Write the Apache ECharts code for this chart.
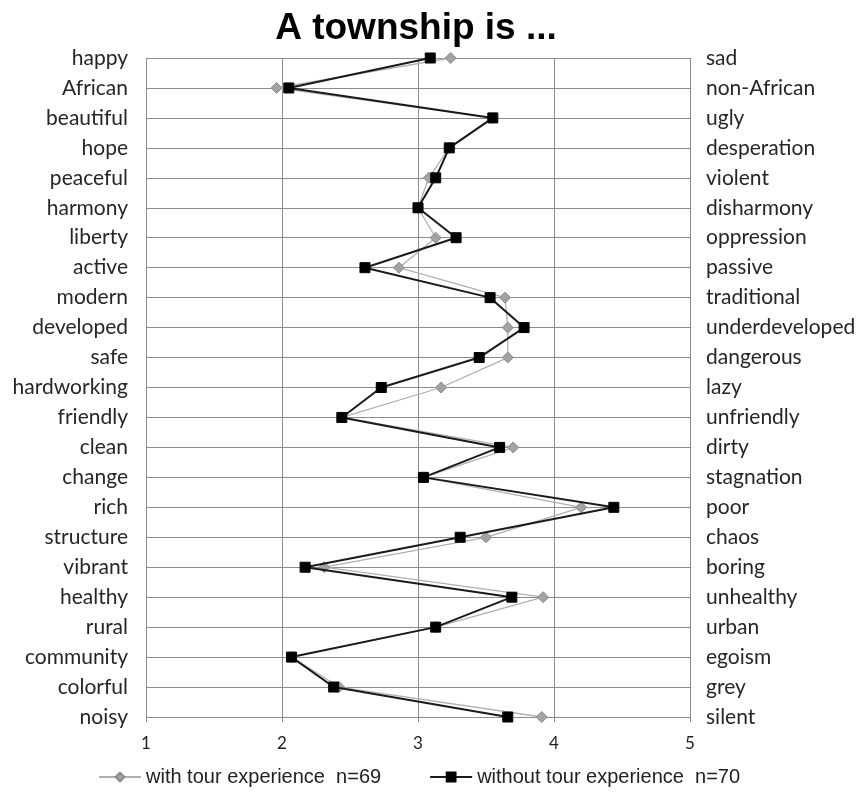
<!DOCTYPE html>
<html>
<head>
<meta charset="utf-8">
<script src="https://cdn.jsdelivr.net/npm/echarts@6/dist/echarts.min.js"></script>
<style>
  html, body { margin: 0; padding: 0; background: #fff; }
  #chart { width: 868px; height: 794px; }
</style>
</head>
<body>
<div id="chart"></div>
<script>
// Semantic differential: positive pole (left) vs negative pole (right)
const leftTerms = ['happy', 'African', 'beautiful', 'hope', 'peaceful', 'harmony', 'liberty', 'active',
  'modern', 'developed', 'safe', 'hardworking', 'friendly', 'clean', 'change', 'rich', 'structure',
  'vibrant', 'healthy', 'rural', 'community', 'colorful', 'noisy'];
const rightTerms = ['sad', 'non-African', 'ugly', 'desperation', 'violent', 'disharmony', 'oppression', 'passive',
  'traditional', 'underdeveloped', 'dangerous', 'lazy', 'unfriendly', 'dirty', 'stagnation', 'poor', 'chaos',
  'boring', 'unhealthy', 'urban', 'egoism', 'grey', 'silent'];

// Mean ratings on a 1–5 scale
const withTour = [3.24, 1.96, 3.55, 3.23, 3.08, 3.00, 3.13, 2.86, 3.64, 3.66, 3.66, 3.17, 2.44, 3.70, 3.04,
  4.20, 3.50, 2.31, 3.92, 3.13, 2.07, 2.42, 3.91];
const withoutTour = [3.09, 2.05, 3.55, 3.23, 3.13, 3.00, 3.28, 2.61, 3.53, 3.78, 3.45, 2.73, 2.44, 3.60, 3.04,
  4.44, 3.31, 2.17, 3.69, 3.13, 2.07, 2.38, 3.66];

const xTicks = [1, 2, 3, 4, 5];

const labelFont = 'Lato, "Open Sans", sans-serif';
const pairs = (vals) => vals.map((v, i) => [v, leftTerms[i]]);

const chart = echarts.init(document.getElementById('chart'), null, { renderer: 'canvas' });
chart.setOption({
  backgroundColor: '#ffffff',
  animation: false,
  title: {
    text: 'A township is ...',
    left: 411,
    top: 5,
    textAlign: 'center',
    textStyle: {
      fontFamily: '"Liberation Sans", Arial, sans-serif',
      fontWeight: 'bold',
      fontSize: 37,
      color: '#000'
    }
  },
  legend: {
    left: 93,
    top: 762,
    itemWidth: 42,
    itemHeight: 11,
    itemGap: 48,
    textStyle: {
      fontFamily: '"Liberation Sans", Arial, sans-serif',
      fontSize: 20,
      color: '#222'
    },
    data: ['with tour experience  n=69', 'without tour experience  n=70']
  },
  grid: { left: 146, right: 178, top: 58, bottom: 77, containLabel: false },
  xAxis: {
    type: 'value',
    min: xTicks[0],
    max: xTicks[xTicks.length - 1],
    interval: 1,
    axisLine: { show: false },
    axisTick: { show: true, length: 5, lineStyle: { color: '#888' } },
    axisLabel: {
      margin: 18,
      fontFamily: labelFont,
      fontSize: 17,
      color: '#222',
      formatter: (v) => xTicks.includes(v) ? String(v) : ''
    },
    splitLine: { show: true, lineStyle: { color: '#8c8c8c', width: 1 } }
  },
  yAxis: [
    {
      type: 'category',
      data: leftTerms,
      inverse: true,
      boundaryGap: false,
      position: 'left',
      axisLine: { show: false },
      axisTick: { show: false },
      axisLabel: {
        margin: 18,
        interval: 0,
        fontFamily: labelFont,
        fontSize: 21,
        color: '#262626'
      },
      splitLine: { show: true, interval: 0, lineStyle: { color: '#8c8c8c', width: 1 } }
    },
    {
      type: 'category',
      data: rightTerms,
      inverse: true,
      boundaryGap: false,
      position: 'right',
      axisLine: { show: false },
      axisTick: { show: false },
      axisLabel: {
        margin: 16,
        interval: 0,
        fontFamily: labelFont,
        fontSize: 21,
        color: '#262626'
      },
      splitLine: { show: false }
    }
  ],
  series: [
    {
      name: 'with tour experience  n=69',
      type: 'line',
      yAxisIndex: 0,
      data: pairs(withTour),
      symbol: 'diamond',
      symbolSize: 11,
      itemStyle: { color: '#a3a3a3', borderColor: '#8a8a8a', borderWidth: 1 },
      lineStyle: { color: '#b0b0b0', width: 1.3 },
      z: 2
    },
    {
      name: 'without tour experience  n=70',
      type: 'line',
      yAxisIndex: 0,
      data: pairs(withoutTour),
      symbol: 'rect',
      symbolSize: 10,
      itemStyle: { color: '#000', borderColor: '#000', borderWidth: 1 },
      lineStyle: { color: '#1a1a1a', width: 2 },
      z: 3
    }
  ]
});
</script>
</body>
</html>
